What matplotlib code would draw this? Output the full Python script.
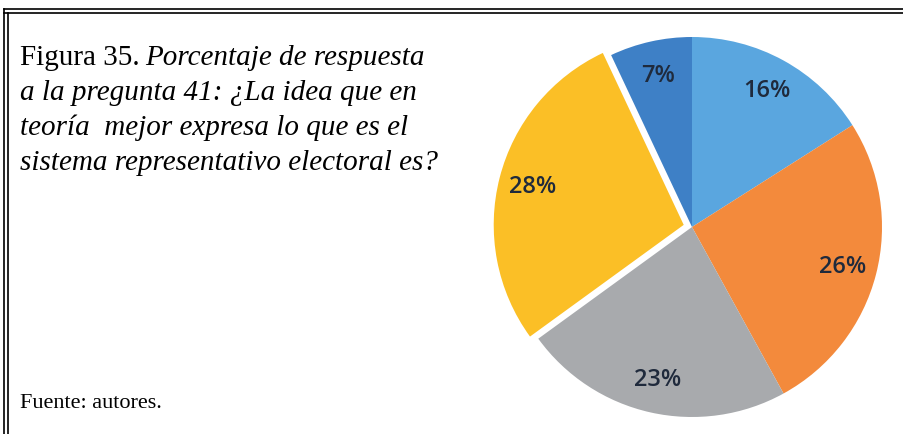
import matplotlib.pyplot as plt
from matplotlib.lines import Line2D

# data, clockwise from the top
labels = ['16%', '26%', '23%', '28%', '7%']
values = [16, 26, 23, 28, 7]
colors = ['#5AA6DF', '#F38A3C', '#A8AAAD', '#FBBF26', '#3E80C6']
explode = [0, 0, 0, 0.045, 0]

title_head = 'Figura 35.'
title_lines = ['Porcentaje de respuesta',
               'a la pregunta 41: ¿La idea que en',
               'teoría  mejor expresa lo que es el',
               'sistema representativo electoral es?']
source = 'Fuente: autores.'

W, H = 904, 435
fig = plt.figure(figsize=(W / 100, H / 100), dpi=100, facecolor='white')

# frame: double line top and left
for y in (10, 14):
    fig.add_artist(Line2D([4 / W, 1], [1 - y / H, 1 - y / H], color='black', lw=1.2))
for x in (4, 8):
    ty = 10 if x == 4 else 14
    fig.add_artist(Line2D([x / W, x / W], [0, 1 - ty / H], color='black', lw=1.2))

# pie
R = 190.0
cx, cy = 692, 228
half = 215
ax = fig.add_axes([(cx - half) / W, (H - cy - half) / H, 2 * half / W, 2 * half / H])
wedges, texts = ax.pie(values, labels=labels, colors=colors, explode=explode,
                       startangle=90, counterclock=False, labeldistance=0.82,
                       wedgeprops=dict(linewidth=0),
                       textprops=dict(fontsize=17, color='#1F2A3C', family='Open Sans',
                                      weight='semibold'))
for t in texts:
    t.set_ha('center')
    t.set_va('center')
lim = half / R
ax.set_xlim(-lim, lim)
ax.set_ylim(-lim, lim)
ax.axis('off')

# caption text
serif = 'Liberation Serif'
fs = 21
x0 = 20 / W
base_first = 65
step = 35
head = fig.text(x0, 1 - base_first / H, title_head, fontsize=fs, family=serif,
                va='baseline', ha='left')
fig.canvas.draw()
bb = head.get_window_extent()
fig.text((bb.x1 + 6) / W, 1 - base_first / H, title_lines[0], fontsize=fs, family=serif,
         style='italic', va='baseline', ha='left')
for i, line in enumerate(title_lines[1:], start=1):
    fig.text(x0, 1 - (base_first + i * step) / H, line, fontsize=fs, family=serif,
             style='italic', va='baseline', ha='left')

fig.text(x0, 1 - 408 / H, source, fontsize=16, family=serif, va='baseline', ha='left')

fig.savefig('out.png', dpi=100, facecolor='white')
